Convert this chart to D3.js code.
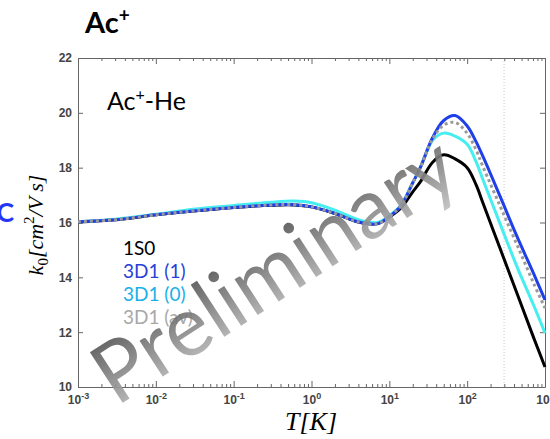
<!DOCTYPE html>
<html>
<head>
<meta charset="utf-8">
<script src="https://cdn.jsdelivr.net/npm/d3@7"></script>
<style>
  body { margin: 0; background: #fff; }
  svg { display: block; }
</style>
</head>
<body>
<div class="chart"></div>
<script>
// temperature grid (K) shared by all curves
const temps = [0.001, 0.003, 0.01, 0.03, 0.1, 0.3, 0.6, 1, 2, 4, 7, 10, 14, 20, 25, 36, 50, 70, 100, 130, 160, 265, 435, 710, 1000];

const k1S0    = [16.02, 16.10, 16.28, 16.42, 16.55, 16.63, 16.64, 16.57, 16.33, 16.02, 15.96, 16.20, 16.52, 17.12, 17.48, 18.20, 18.47, 18.32, 18.00, 17.38, 16.70, 15.05, 13.43, 11.82, 10.73];
const k3D1_1  = [16.03, 16.10, 16.28, 16.42, 16.55, 16.64, 16.65, 16.57, 16.33, 16.02, 15.95, 16.22, 16.60, 17.45, 18.00, 19.10, 19.72, 19.90, 19.52, 18.95, 18.40, 16.95, 15.50, 14.15, 13.18];
const k3D1_0  = [16.03, 16.12, 16.30, 16.48, 16.62, 16.74, 16.78, 16.72, 16.45, 16.10, 16.00, 16.25, 16.62, 17.45, 18.00, 19.00, 19.26, 19.15, 18.85, 18.22, 17.55, 15.95, 14.40, 13.00, 11.97];
const k3D1_av = [16.03, 16.10, 16.28, 16.42, 16.55, 16.64, 16.65, 16.57, 16.33, 16.02, 15.95, 16.22, 16.60, 17.45, 18.00, 19.05, 19.55, 19.65, 19.25, 18.65, 18.03, 16.60, 15.20, 13.80, 12.88];

const seriesNames = ['1S0', '3D1 (1)', '3D1 (0)', '3D1 (av)'];
const yTicks = [10, 12, 14, 16, 18, 20, 22];
const roomTemp = 298;

const W = 550, H = 439;
const margin = {top: 58, right: 5, bottom: 52, left: 78};
const width = W - margin.left - margin.right;
const height = H - margin.top - margin.bottom;

const svg = d3.select('.chart')
  .append('svg')
    .attr('width', W)
    .attr('height', H);

const defs = svg.append('defs');
const grad = defs.append('linearGradient')
    .attr('id', 'wm')
    .attr('x1', 0).attr('y1', 0).attr('x2', 0).attr('y2', 1);
grad.append('stop').attr('offset', '0%').attr('stop-color', '#3a3a3a');
grad.append('stop').attr('offset', '100%').attr('stop-color', '#c4c4c4');

// title
svg.append('text')
    .attr('x', 85).attr('y', 33)
    .style('font-family', 'Lato, "Open Sans", sans-serif')
    .style('font-weight', 'bold')
    .style('font-size', '29px')
    .text('Ac')
  .append('tspan')
    .attr('dy', -11)
    .style('font-size', '19px')
    .text('+');

// clipped blue letter on the left edge
svg.append('text')
    .attr('x', 14).attr('y', 222)
    .attr('text-anchor', 'end')
    .style('font-family', 'Lato, sans-serif')
    .style('font-weight', 'bold')
    .style('font-size', '27px')
    .style('fill', '#2536f5')
    .text('C');

const g = svg.append('g')
    .attr('transform', `translate(${margin.left}, ${margin.top})`);

const x = d3.scaleLog()
    .domain([1e-3, 1e3])
    .range([0, width]);

const y = d3.scaleLinear()
    .domain([10, 22])
    .range([height, 0]);

const isDecade = v => Math.abs(Math.log10(v) - Math.round(Math.log10(v))) < 1e-6;

// room temperature marker
g.append('line')
    .attr('x1', x(roomTemp)).attr('x2', x(roomTemp))
    .attr('y1', 0).attr('y2', height)
    .style('stroke', '#c8c8c8')
    .style('stroke-width', 1)
    .style('stroke-dasharray', '1,2');

// axes (ticks point inwards, box on all sides)
const xAxis = d3.axisBottom(x)
    .tickSizeInner(-6)
    .tickSizeOuter(0)
    .tickPadding(8)
    .tickFormat(d => isDecade(d) ? 'x' : '');

const gx = g.append('g')
    .attr('transform', `translate(0, ${height})`)
    .call(xAxis);

gx.selectAll('.tick line')
    .attr('y2', d => isDecade(d) ? -6 : -3);

gx.selectAll('.tick text')
    .each(function(d) {
      const t = d3.select(this);
      t.text('');
      if (!isDecade(d)) return;
      t.append('tspan').text('10');
      t.append('tspan')
          .attr('dy', -5)
          .style('font-size', '9px')
          .text(Math.round(Math.log10(d)));
    });

const gxTop = g.append('g')
    .call(d3.axisTop(x).tickSizeInner(-6).tickSizeOuter(0).tickFormat(''));
gxTop.selectAll('.tick line')
    .attr('y2', d => isDecade(d) ? 6 : 3);

const yAxis = d3.axisLeft(y)
    .tickValues(yTicks)
    .tickSizeInner(-5)
    .tickSizeOuter(0)
    .tickPadding(6);
g.append('g').call(yAxis);

g.append('g')
    .attr('transform', `translate(${width}, 0)`)
    .call(d3.axisRight(y).tickValues(yTicks).tickSizeInner(-5).tickSizeOuter(0).tickFormat(''));

g.selectAll('.domain').style('stroke', '#666');
g.selectAll('.tick line').style('stroke', '#666');
g.selectAll('.tick text')
    .style('font-family', '"Liberation Sans", Arial, sans-serif')
    .style('font-weight', 'bold')
    .style('font-size', '12px')
    .style('fill', '#444');

// curves
const line = d3.line()
    .x(d => x(d[0]))
    .y(d => y(d[1]))
    .curve(d3.curveCatmullRom.alpha(0.5));

const series = [
  {name: seriesNames[0], values: k1S0,    color: '#000000', dash: null},
  {name: seriesNames[2], values: k3D1_0,  color: '#45eef0', dash: null},
  {name: seriesNames[1], values: k3D1_1,  color: '#1f3fe8', dash: null},
  {name: seriesNames[3], values: k3D1_av, color: '#9a9a9a', dash: '3,3'}
];

g.selectAll('.curve')
  .data(series)
  .enter().append('path')
    .attr('class', 'curve')
    .attr('d', s => line(temps.map((t, i) => [t, s.values[i]])))
    .style('fill', 'none')
    .style('stroke', s => s.color)
    .style('stroke-width', 3)
    .style('stroke-dasharray', s => s.dash);

// inner label
const inner = g.append('text')
    .attr('x', 29).attr('y', 52)
    .style('font-family', 'Lato, "Open Sans", sans-serif')
    .style('font-size', '25px');
inner.append('tspan').text('Ac');
inner.append('tspan').attr('dy', -10).style('font-size', '16px').text('+');
inner.append('tspan').attr('dy', 10).text('-He');

// legend
const legendColors = ['#000000', '#2a3fd8', '#1ab0e8', '#a8a8a8'];
g.selectAll('.legend')
  .data(seriesNames)
  .enter().append('text')
    .attr('class', 'legend')
    .attr('x', 45)
    .attr('y', (d, i) => 197 + i * 23)
    .style('font-family', 'Lato, "Open Sans", sans-serif')
    .style('font-size', '19px')
    .style('fill', (d, i) => legendColors[i])
    .text(d => d);

// axis titles
svg.append('text')
    .attr('x', 311).attr('y', 430)
    .attr('text-anchor', 'middle')
    .style('font-family', '"Liberation Serif", "DejaVu Serif", serif')
    .style('font-style', 'italic')
    .style('font-size', '26px')
    .text('T[K]');

const ylab = svg.append('text')
    .attr('transform', 'translate(43, 225) rotate(-90)')
    .attr('text-anchor', 'middle')
    .style('font-family', '"Liberation Serif", "DejaVu Serif", serif')
    .style('font-style', 'italic')
    .style('font-size', '22px');
ylab.append('tspan').text('k');
ylab.append('tspan').attr('dy', 5).style('font-size', '15px').style('font-style', 'normal').text('0');
ylab.append('tspan').attr('dy', -5).text('[cm');
ylab.append('tspan').attr('dy', -9).style('font-size', '15px').style('font-style', 'normal').text('2');
ylab.append('tspan').attr('dy', 9).text('/V s]');

// watermark
svg.append('text')
    .attr('transform', 'translate(290, 294) rotate(-33)')
    .attr('text-anchor', 'middle')
    .style('font-family', 'Lato, "Open Sans", sans-serif')
    .style('font-size', '84px')
    .style('fill', 'url(#wm)')
    .style('opacity', 0.9)
    .text('Preliminary');
</script>
</body>
</html>
